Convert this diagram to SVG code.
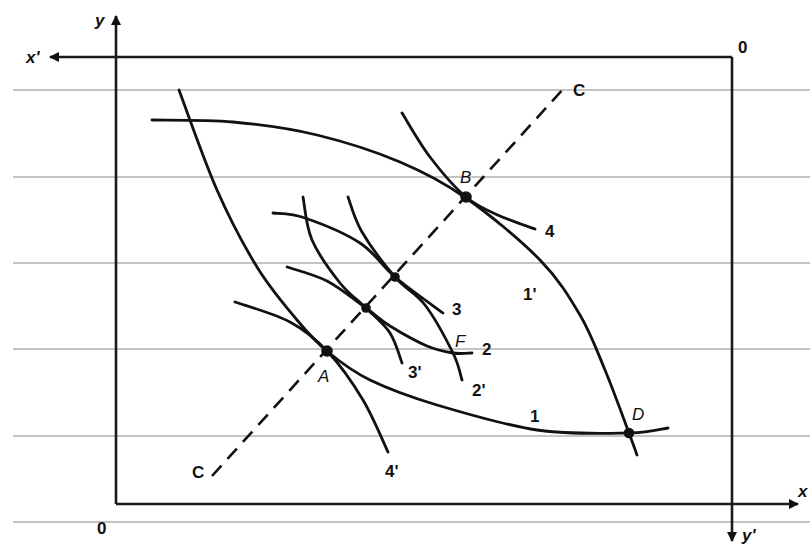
<svg xmlns="http://www.w3.org/2000/svg" width="810" height="548" viewBox="0 0 810 548">
<style>
.rule{stroke:#c4c4c4;stroke-width:2;fill:none}
.axis{stroke:#1a1a1a;stroke-width:2.6;fill:none}
.curve{stroke:#111;stroke-width:2.8;fill:none;stroke-linecap:round;stroke-linejoin:round}
.dash{stroke:#111;stroke-width:2.6;fill:none;stroke-dasharray:14 9}
.dot{fill:#111}
.lbl{font-family:"Liberation Sans",Arial,sans-serif;font-size:17px;fill:#111;font-weight:bold}
.it{font-style:italic}
.pt{font-family:"Liberation Sans",Arial,sans-serif;font-size:17px;fill:#111;font-style:italic}
</style>
<defs>
<marker id="ah" viewBox="0 0 10 10" refX="9" refY="5" markerWidth="4" markerHeight="4" orient="auto" markerUnits="strokeWidth">
<path d="M0,0 L10,5 L0,10 z" fill="#111"/>
</marker>
</defs>
<rect width="810" height="548" fill="#fff"/>
<g id="rules">
<line class="rule" x1="13" y1="90" x2="810" y2="90"/>
<line class="rule" x1="13" y1="177" x2="810" y2="177"/>
<line class="rule" x1="13" y1="263" x2="810" y2="263"/>
<line class="rule" x1="13" y1="349" x2="810" y2="349"/>
<line class="rule" x1="13" y1="436" x2="810" y2="436"/>
<line class="rule" x1="13" y1="522" x2="810" y2="522"/>
</g>
<g id="axes">
<line class="axis" x1="116" y1="504" x2="116" y2="16" marker-end="url(#ah)"/>
<line class="axis" x1="116" y1="504" x2="798" y2="504" marker-end="url(#ah)"/>
<line class="axis" x1="732" y1="57" x2="50" y2="57" marker-end="url(#ah)"/>
<line class="axis" x1="732" y1="57" x2="732" y2="541" marker-end="url(#ah)"/>
</g>
<g id="connectors">
<line id="contract" class="dash" x1="212" y1="476" x2="565" y2="87"/>
<path id="curve-1" class="curve" d="M179,90 C185.3,106.7 204,160.5 217,190 C230,219.5 243.7,245.3 257,267 C270.3,288.7 285.2,305.8 297,320 C308.8,334.2 315.8,342 328,352 C340.2,362 351.8,371.2 370,380 C388.2,388.8 409.2,396.7 437,405 C464.8,413.3 505,425.3 537,430 C569,434.7 607.2,433.3 629,433 C650.8,432.7 661.5,428.8 668,428"/>
<path id="curve-1p" class="curve" d="M152,120 C165.5,120.3 205.5,119.5 233,122 C260.5,124.5 289.2,128.3 317,135 C344.8,141.7 375.2,151.5 400,162 C424.8,172.5 442.7,181.7 466,198 C489.3,214.3 521,240.5 540,260 C559,279.5 569.2,296.7 580,315 C590.8,333.3 596.8,350.3 605,370 C613.2,389.7 623.7,418.8 629,433 C634.3,447.2 635.7,451.3 637,455"/>
<path id="curve-4" class="curve" d="M402,113 C406.7,120.3 419.3,143 430,157 C440.7,171 454.3,187.2 466,197 C477.7,206.8 488.5,210.7 500,216 C511.5,221.3 529.2,226.8 535,229"/>
<path id="curve-4p" class="curve" d="M235,302 C244.2,305.3 274.5,313.7 290,322 C305.5,330.3 315.8,339 328,352 C340.2,365 353,383.3 363,400 C373,416.7 383.8,443.3 388,452"/>
<path id="curve-3" class="curve" d="M273,213 C278.3,213.8 290.5,213 305,218 C319.5,223 345,233.2 360,243 C375,252.8 381.2,265.3 395,277 C408.8,288.7 435,307 443,313"/>
<path id="curve-2p" class="curve" d="M348,197 C350.3,202.8 354.2,218.7 362,232 C369.8,245.3 384.5,264.8 395,277 C405.5,289.2 415.3,292.3 425,305 C434.7,317.7 446.8,340.5 453,353 C459.2,365.5 460.5,375.5 462,380"/>
<path id="curve-3p" class="curve" d="M303,197 C304.5,204.2 305.8,225.7 312,240 C318.2,254.3 331,271.7 340,283 C349,294.3 357.7,299.7 366,308 C374.3,316.3 384,323.8 390,333 C396,342.2 400,358 402,363"/>
<path id="curve-2" class="curve" d="M287,267 C293.7,269.3 313.8,274.2 327,281 C340.2,287.8 355.5,300.5 366,308 C376.5,315.5 379.8,319.7 390,326 C400.2,332.3 416.5,341.5 427,346 C437.5,350.5 445.5,351.8 453,353 C460.5,354.2 468.8,353 472,353"/>
</g>
<g id="point-A"><circle class="dot" cx="327" cy="351" r="5.8"/><text class="pt" x="318" y="382">A</text></g>
<g id="point-B"><circle class="dot" cx="466" cy="197" r="5.8"/><text class="pt" x="460" y="183">B</text></g>
<g id="point-D"><circle class="dot" cx="629" cy="433" r="5.3"/><text class="pt" x="632" y="420">D</text></g>
<g id="point-F"><text class="pt" x="455" y="347">F</text></g>
<g id="point-E1"><circle class="dot" cx="395" cy="277" r="4.8"/></g>
<g id="point-E2"><circle class="dot" cx="366" cy="308" r="4.8"/></g>
<g id="labels">
<text class="lbl it" x="95" y="26">y</text>
<text class="lbl it" x="26" y="63">x'</text>
<text class="lbl" x="738" y="53">0</text>
<text class="lbl" x="97" y="534">0</text>
<text class="lbl it" x="798" y="497">x</text>
<text class="lbl it" x="742" y="541">y'</text>
<text class="lbl" x="573" y="96">C</text>
<text class="lbl" x="192" y="478">C</text>
<text class="lbl" x="545" y="237">4</text>
<text class="lbl" x="523" y="300">1'</text>
<text class="lbl" x="452" y="315">3</text>
<text class="lbl" x="482" y="355">2</text>
<text class="lbl" x="408" y="378">3'</text>
<text class="lbl" x="472" y="396">2'</text>
<text class="lbl" x="530" y="422">1</text>
<text class="lbl" x="385" y="477">4'</text>
</g>
</svg>
